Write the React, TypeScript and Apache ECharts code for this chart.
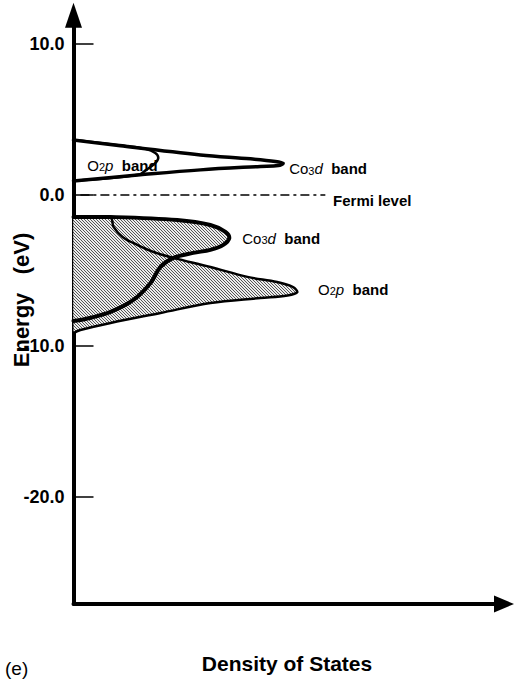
import React, { useEffect, useRef } from 'react';
import * as echarts from 'echarts';

// Energy axis ticks (eV)
const yTickValues = [-20, -10, 0, 10];

// Unoccupied bands (above Fermi level): [DOS, energy eV]
const co3dUpper: number[][] = [
  [0, 3.64], [10.9, 3.25], [29.5, 2.65], [41.1, 2.39], [46.9, 2.22], [48.7, 2.09],
  [47.6, 1.95], [43.4, 1.89], [29.5, 1.66], [15.5, 1.33], [0, 0.93],
];
const o2pUpper: number[][] = [
  [0, 3.64], [12.5, 3.25], [16.7, 3.05], [19.0, 2.78], [19.7, 2.45], [18.8, 2.05],
  [16.9, 1.66], [15.1, 1.33], [0, 0.93],
];

// Occupied bands (below Fermi level)
const co3dLower: number[][] = [
  [0, -1.46], [8.6, -1.46], [24.1, -1.66], [31.8, -1.99], [35.3, -2.45], [36.2, -2.85],
  [34.8, -3.31], [31.8, -3.64], [27.8, -3.84], [23.2, -4.17], [20.2, -4.77], [17.9, -5.83],
  [13.9, -6.96], [8.6, -7.75], [2.8, -8.22], [0, -8.35],
];
const o2pLower: number[][] = [
  [0, -1.46], [8.6, -1.52], [9.3, -2.12], [11.4, -2.78], [14.8, -3.31], [18.6, -3.78],
  [23.2, -4.17], [31.8, -4.77], [40.4, -5.43], [47.3, -5.77], [51.0, -6.1], [52.0, -6.43],
  [49.7, -6.66], [43.4, -6.83], [31.8, -7.16], [20.2, -7.82], [8.6, -8.48], [1.6, -8.95], [0, -9.15],
];

const fermiLevel: number[][] = [[1.6, 0], [58.5, 0]];

const labelPositions: number[][] = [[3.2, 2.05], [50.1, 1.85], [60.3, -0.27], [39.2, -2.78], [56.8, -6.16]];
const labelTexts = [
  '{r|O}{s|2}{i|p}{b|  band}',
  '{r|Co}{s|3}{i|d}{b|  band}',
  '{b|Fermi level}',
  '{r|Co}{s|3}{i|d}{b|  band}',
  '{r|O}{s|2}{i|p}{b|  band}',
];

const FONT = '"Liberation Sans", Arial, Helvetica, sans-serif';

const hatchSvg =
  '<svg xmlns="http://www.w3.org/2000/svg" width="3" height="3">' +
  '<rect width="3" height="3" fill="#ececec"/>' +
  '<path d="M0,0L3,3M-1,2L1,4M2,-1L4,1" stroke="#555" stroke-width="1"/></svg>';
const hatch = {
  image: 'data:image/svg+xml;utf8,' + encodeURIComponent(hatchSvg),
  repeat: 'repeat',
  imageWidth: 3,
  imageHeight: 3,
};

function toPixels(api: any, points: number[][]) {
  return points.map((p) => api.coord(p));
}

function fillSeries(points: number[][]) {
  return {
    type: 'custom',
    coordinateSystem: 'cartesian2d',
    data: [[0, 0]],
    silent: true,
    clip: false,
    z: 1,
    renderItem: (_p: any, api: any) => {
      const px = toPixels(api, points);
      return {
        type: 'polygon',
        shape: { points: px, smooth: 0.35, smoothConstraint: [px[0], px[0]] },
        style: { fill: hatch, stroke: 'none' },
      };
    },
  };
}

function strokeSeries(points: number[][], width: number) {
  return {
    type: 'custom',
    coordinateSystem: 'cartesian2d',
    data: [[0, 0]],
    silent: true,
    clip: false,
    z: 3,
    renderItem: (_p: any, api: any) => {
      const px = toPixels(api, points);
      return {
        type: 'polyline',
        shape: { points: px, smooth: 0.35, smoothConstraint: [px[0], px[0]] },
        style: { fill: 'none', stroke: '#000', lineWidth: width, lineJoin: 'round', lineCap: 'round' },
      };
    },
  };
}

const rich = {
  r: { fontSize: 15, fontFamily: FONT, fontWeight: 'normal', fill: '#000', verticalAlign: 'bottom', lineHeight: 18 },
  s: { fontSize: 11, fontFamily: FONT, fontWeight: 'normal', fill: '#000', verticalAlign: 'bottom', lineHeight: 18 },
  i: { fontSize: 15, fontFamily: FONT, fontStyle: 'italic', fontWeight: 'normal', fill: '#000', verticalAlign: 'bottom', lineHeight: 18 },
  b: { fontSize: 15, fontFamily: FONT, fontWeight: 'bold', fill: '#000', verticalAlign: 'bottom', lineHeight: 18 },
};

export default function App() {
  const ref = useRef<HTMLDivElement>(null);
  useEffect(() => {
    if (!ref.current) return;
    const chart = echarts.init(ref.current, undefined, { renderer: 'svg' });
    chart.setOption({
      animation: false,
      backgroundColor: '#fff',
      textStyle: { fontFamily: FONT },
      grid: { left: 73.5, right: 10, top: 15.3, bottom: 75, containLabel: false },
      xAxis: {
        type: 'value',
        min: 0,
        max: 100,
        axisLine: {
          show: true,
          onZero: false,
          symbol: ['none', 'triangle'],
          symbolSize: [17, 20],
          lineStyle: { color: '#000', width: 4 },
        },
        axisTick: { show: false },
        axisLabel: { show: false },
        splitLine: { show: false },
      },
      yAxis: {
        type: 'value',
        min: -27.1,
        max: 11.9,
        axisLine: {
          show: true,
          onZero: false,
          symbol: ['none', 'triangle'],
          symbolSize: [17, 25],
          lineStyle: { color: '#000', width: 4 },
        },
        axisTick: {
          show: true,
          inside: true,
          length: 20,
          customValues: yTickValues,
          lineStyle: { color: '#000', width: 1.5 },
        },
        axisLabel: {
          show: true,
          customValues: yTickValues,
          margin: 9,
          formatter: (v: number) => v.toFixed(1),
          fontSize: 18,
          fontWeight: 'bold',
          color: '#000',
          fontFamily: FONT,
        },
        splitLine: { show: false },
      },
      series: [
        fillSeries(co3dLower),
        fillSeries(o2pLower),
        strokeSeries(co3dUpper, 3.5),
        strokeSeries(o2pUpper, 2.5),
        strokeSeries(o2pLower, 2.5),
        strokeSeries(co3dLower, 4),
        {
          type: 'line',
          data: fermiLevel,
          showSymbol: false,
          silent: true,
          z: 3,
          lineStyle: { color: '#000', width: 1.5, type: [9, 4, 3, 4] },
        },
        {
          type: 'custom',
          coordinateSystem: 'cartesian2d',
          data: labelPositions,
          silent: true,
          clip: false,
          z: 4,
          renderItem: (params: any, api: any) => {
            const c = api.coord([api.value(0), api.value(1)]);
            return {
              type: 'text',
              x: c[0],
              y: c[1],
              style: {
                text: labelTexts[params.dataIndex],
                rich,
                align: 'left',
                verticalAlign: 'middle',
                fill: '#000',
              },
            };
          },
        },
      ],
      graphic: [
        {
          type: 'text',
          x: 21,
          y: 300,
          rotation: Math.PI / 2,
          style: {
            text: 'Energy   (eV)',
            font: 'bold 22px ' + FONT,
            fill: '#000',
            align: 'center',
            verticalAlign: 'middle',
            textAlign: 'center',
            textVerticalAlign: 'middle',
          },
        },
        {
          type: 'text',
          x: 287,
          y: 663,
          style: {
            text: 'Density of States',
            font: 'bold 21px ' + FONT,
            fill: '#000',
            align: 'center',
            verticalAlign: 'middle',
            textAlign: 'center',
            textVerticalAlign: 'middle',
          },
        },
        {
          type: 'text',
          x: 5,
          y: 668,
          style: {
            text: '(e)',
            font: 'normal 19px ' + FONT,
            fill: '#000',
            align: 'left',
            verticalAlign: 'middle',
            textAlign: 'left',
            textVerticalAlign: 'middle',
          },
        },
      ],
    });
    return () => chart.dispose();
  }, []);
  return (
    <div
      ref={ref}
      style={{ position: 'absolute', left: 0, top: 0, width: 514, height: 679 }}
    />
  );
}
